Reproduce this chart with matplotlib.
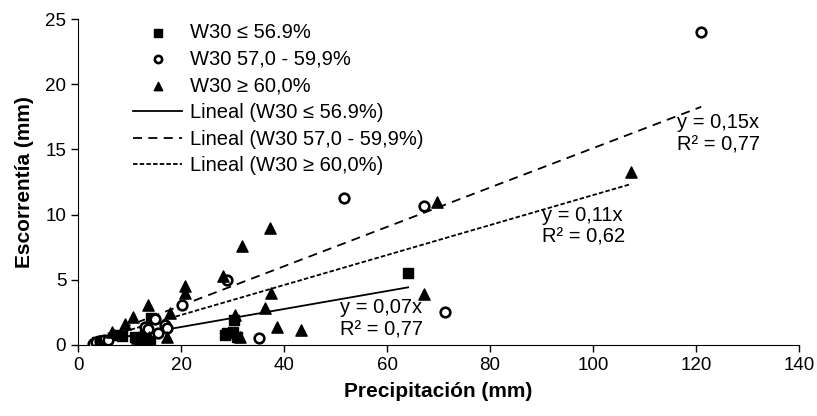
import matplotlib
matplotlib.use("Agg")
import matplotlib.pyplot as plt
import numpy as np

# W30 <= 56.9 %
sq_x = [3.2, 3.6, 4.0, 4.5, 5.0, 7.5, 8.5, 11.0, 12.4, 13.0, 14.0, 14.2, 28.5, 29.0, 30.1, 30.3, 30.9, 64.1]
sq_y = [0.1, 0.2, 0.15, 0.3, 0.25, 0.8, 0.7, 0.6, 0.6, 0.8, 0.3, 2.1, 0.8, 0.9, 1.0, 1.9, 0.6, 5.5]

# W30 57,0 - 59,9 %
ci_x = [3.0, 3.5, 4.2, 5.0, 5.8, 13.0, 13.6, 15.0, 15.5, 16.9, 17.3, 20.2, 28.9, 35.1, 51.7, 67.2, 71.3, 121.0]
ci_y = [0.1, 0.2, 0.3, 0.35, 0.4, 1.4, 1.2, 2.0, 0.9, 1.5, 1.3, 3.1, 5.0, 0.5, 11.3, 10.7, 2.5, 24.0]

# W30 >= 60,0 %
tr_x = [4.0, 6.6, 9.1, 10.7, 11.5, 12.0, 13.6, 13.8, 17.3, 17.9, 20.8, 20.8, 28.2, 30.5, 31.5, 31.8,
        36.4, 37.3, 37.5, 38.6, 43.2, 67.2, 69.7, 107.4]
tr_y = [0.3, 1.0, 1.6, 2.15, 0.5, 0.4, 3.1, 0.6, 0.6, 2.45, 4.5, 4.0, 5.3, 2.3, 0.6, 7.6,
        2.8, 9.0, 4.0, 1.4, 1.15, 3.9, 11.0, 13.3]

# trend lines through origin (unrounded slopes)
slopes = [0.069, 0.151, 0.115]
fit_text = ["y = 0,07x\nR² = 0,77", "y = 0,15x\nR² = 0,77", "y = 0,11x\nR² = 0,62"]
text_pos = [(50.9, 2.0), (116.3, 16.2), (90.1, 9.1)]

labels = ["W30 ≤ 56.9%", "W30 57,0 - 59,9%", "W30 ≥ 60,0%"]

plt.rcParams["font.family"] = ["Liberation Sans", "DejaVu Sans"]

fig = plt.figure(figsize=(8.17, 4.16), dpi=100)
ax = fig.add_axes([0.0955, 0.1707, 0.8825, 0.7833])

ax.scatter(sq_x, sq_y, marker="s", s=60, color="black", label=labels[0], zorder=3)
ax.scatter(ci_x, ci_y, marker="o", s=48, facecolor="white", edgecolor="black",
           linewidth=1.9, label=labels[1], zorder=3)
ax.scatter(tr_x, tr_y, marker="^", s=65, color="black", label=labels[2], zorder=3)

styles = ["-", (0, (5, 3.5)), (0, (2.5, 1.2))]
for xs, k, ls, lab in zip([sq_x, ci_x, tr_x], slopes, styles, labels):
    xx = np.array([min(xs), max(xs)])
    ax.plot(xx, k * xx, color="black", linestyle=ls, linewidth=1.3,
            label="Lineal (" + lab + ")", zorder=2)

for t, (tx, ty) in zip(fit_text, text_pos):
    ax.text(tx, ty, t, fontsize=14.5, va="center", ha="left", linespacing=1.2, zorder=4)

ax.set_xlim(0, 140)
ax.set_ylim(0, 25)
ax.set_xticks(range(0, 141, 20))
ax.set_yticks(range(0, 26, 5))
for s in ["top", "right"]:
    ax.spines[s].set_visible(False)
ax.tick_params(direction="out", length=5, width=1, labelsize=13.5)

ax.set_xlabel("Precipitación (mm)", fontsize=15, fontweight="bold", labelpad=6)
ax.set_ylabel("Escorrentía (mm)", fontsize=15, fontweight="bold", labelpad=8)

leg = ax.legend(loc="upper left", bbox_to_anchor=(0.06, 1.025), frameon=False, fontsize=14.5,
                handlelength=2.4, handletextpad=0.4, labelspacing=0.38, markerscale=0.75,
                borderaxespad=0.2)

fig.savefig("out.png", dpi=100, facecolor="white")
